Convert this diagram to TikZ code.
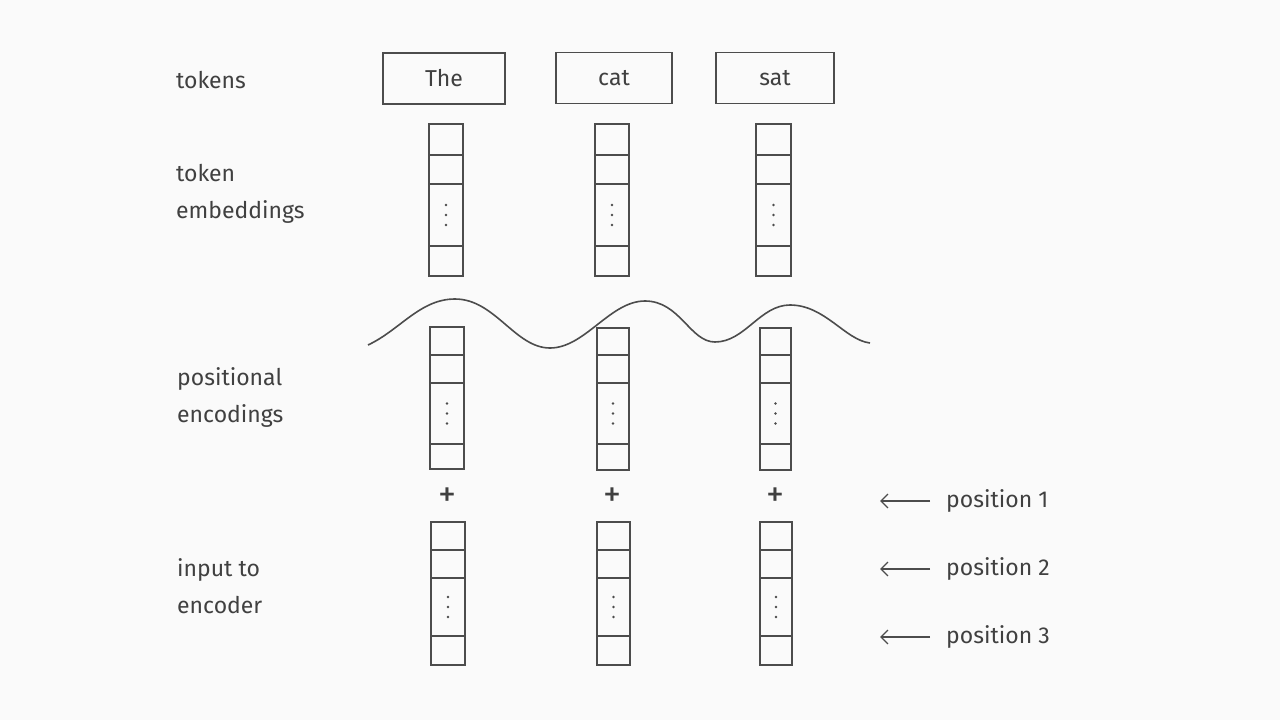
\documentclass[tikz,border=0pt]{standalone}
\usepackage{fontspec}
\usetikzlibrary{arrows.meta}
\setmainfont{Fira Sans}
\begin{document}
\begin{tikzpicture}[x=1pt,y=-1pt,
  ink/.style={draw=black!70,line width=1.6pt},
  lbl/.style={text=black!75,font=\fontsize{23}{37}\selectfont,anchor=west,align=left,inner sep=0},
  pl/.style={text=black!75,font=\fontsize{36}{36}\selectfont,inner sep=0},
  tok/.style={ink,minimum height=51pt,inner sep=0,text=black!75,font=\fontsize{23}{26}\selectfont}]
\fill[black!2] (0,0) rectangle (1280,720);
\useasboundingbox (0,0) rectangle (1280,720);
\def\vcol#1#2#3#4#5#6#7#8{%
  \draw[ink] (#2,#4) rectangle (#3,#8);
  \draw[ink] (#2,#5) -- (#3,#5) (#2,#6) -- (#3,#6) (#2,#7) -- (#3,#7);
  \coordinate (#1) at ({(#2+#3)/2},{(#6+#7)/2});
  \foreach \d in {-10,0,10}{\fill[black!70] ([yshift=\d]#1) circle (1.3pt);}
}
% tokens
\node[tok,minimum width=122pt] (t1) at (444,78.5) {The};
\node[tok,minimum width=116pt] (t2) at (614,78) {cat};
\node[tok,minimum width=118pt] (t3) at (775,78) {sat};
% labels
\node[lbl] (l1) at (176,80) {tokens};
\node[lbl] (l2) at (176,194) {token\\embeddings};
\node[lbl] (l3) at (177,397) {positional\\encodings};
\node[lbl] (l4) at (177,586) {input to\\encoder};
% embedding columns
\vcol{e1}{429}{463}{124}{155}{184}{246}{276}
\vcol{e2}{595}{629}{124}{155}{184}{246}{276}
\vcol{e3}{756}{791}{124}{155}{184}{246}{276}
% wave
\draw[ink] (368,345) .. controls (400,330) and (420,299) .. (455,299)
  .. controls (495,299) and (515,348) .. (550,348)
  .. controls (585,348) and (610,301) .. (645,301)
  .. controls (680,301) and (690,342) .. (715,342)
  .. controls (745,342) and (760,305) .. (790,305)
  .. controls (825,305) and (845,340) .. (870,343);
% positional columns
\vcol{p1}{430}{464}{327}{355}{383}{444}{469}
\vcol{p2}{597}{629}{328}{355}{383}{444}{470}
\vcol{p3}{760}{791}{328}{355}{383}{444}{470}
% plus
\node[pl] (s1) at (447,497) {+};
\node[pl] (s2) at (612,497) {+};
\node[pl] (s3) at (775,497) {+};
% input columns
\vcol{i1}{431}{465}{522}{550}{578}{636}{665}
\vcol{i2}{597}{630}{522}{550}{578}{636}{665}
\vcol{i3}{760}{792}{522}{550}{578}{636}{665}
% position labels
\foreach \n/\y in {1/501,2/569,3/637}{
  \node[lbl] (q\n) at (946,\y) {position \n};
  \coordinate (a\n) at (880,\y);
  \draw[ink,line width=1.3pt,-{Straight Barb[length=7pt]}] (930,\y) -- (a\n);
}
\end{tikzpicture}
\end{document}
